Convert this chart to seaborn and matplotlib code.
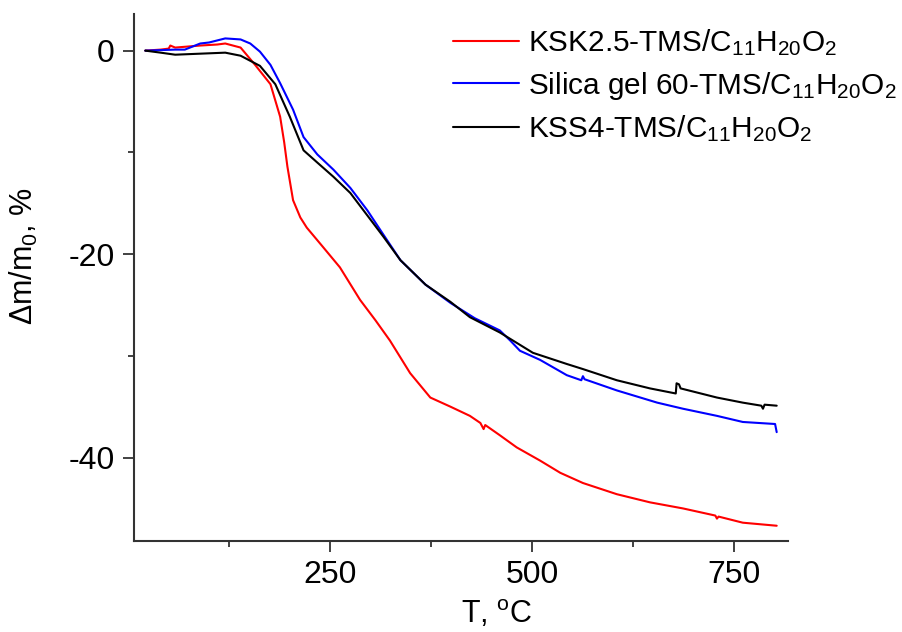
import numpy as np
import pandas as pd
import matplotlib
matplotlib.use("Agg")
import matplotlib.pyplot as plt
import seaborn as sns
from matplotlib.ticker import MultipleLocator

# ---- data ----
labels = [r"KSK2.5-TMS/C$\mathregular{_{11}}$H$\mathregular{_{20}}$O$\mathregular{_{2}}$",
          r"Silica gel 60-TMS/C$\mathregular{_{11}}$H$\mathregular{_{20}}$O$\mathregular{_{2}}$",
          r"KSS4-TMS/C$\mathregular{_{11}}$H$\mathregular{_{20}}$O$\mathregular{_{2}}$"]

t_red = [21, 40, 50, 52, 58, 89, 110, 120, 139, 157, 176, 188, 193, 197, 204, 213, 221, 240, 262,
         287, 306, 324, 349, 374, 399, 423, 436, 440, 442, 460, 481, 510, 535, 563, 605, 646,
         687, 727, 729, 731, 761, 803]
m_red = [0.0, 0.1, 0.2, 0.5, 0.3, 0.5, 0.6, 0.7, 0.3, -1.4, -3.3, -6.5, -9.0, -11.4, -14.7, -16.4,
         -17.4, -19.2, -21.3, -24.5, -26.5, -28.5, -31.7, -34.1, -35.0, -35.9, -36.6, -37.2,
         -36.8, -37.8, -39.0, -40.3, -41.5, -42.5, -43.6, -44.4, -45.0, -45.7, -46.0, -45.8,
         -46.4, -46.7]

t_blue = [21, 58, 70, 89, 100, 120, 139, 151, 163, 176, 188, 204, 217, 234, 254, 275, 296,
          316, 337, 368, 399, 429, 460, 473, 485, 510, 543, 561, 563, 565, 605, 655, 687, 729,
          761, 801, 803]
m_blue = [0.0, 0.1, 0.1, 0.7, 0.8, 1.2, 1.1, 0.7, -0.1, -1.4, -3.2, -5.8, -8.5, -10.2, -11.7,
          -13.5, -15.7, -18.1, -20.6, -23.0, -24.8, -26.3, -27.5, -28.5, -29.5, -30.4, -31.9,
          -32.4, -32.0, -32.3, -33.4, -34.6, -35.2, -35.9, -36.5, -36.7, -37.5]

t_black = [21, 40, 58, 89, 120, 139, 151, 163, 182, 200, 217, 234, 254, 275, 296, 316, 337,
           368, 399, 423, 460, 501, 543, 563, 605, 646, 678, 679, 682, 684, 729, 761, 784,
           786, 788, 803]
m_black = [0.0, -0.2, -0.4, -0.3, -0.2, -0.5, -1.0, -1.5, -3.3, -6.5, -9.8, -11.0, -12.4,
           -14.0, -16.2, -18.3, -20.6, -23.0, -24.7, -26.2, -27.7, -29.7, -30.8, -31.3, -32.4,
           -33.2, -33.7, -32.7, -32.8, -33.2, -34.1, -34.6, -34.9, -35.2, -34.8, -34.9]

x_ticks = [250, 500, 750]
y_ticks = [0, -20, -40]
colors = ["#ff0000", "#0000ff", "#000000"]

df = pd.concat([
    pd.DataFrame({"T": t_red, "m": m_red, "sample": labels[0]}),
    pd.DataFrame({"T": t_blue, "m": m_blue, "sample": labels[1]}),
    pd.DataFrame({"T": t_black, "m": m_black, "sample": labels[2]}),
], ignore_index=True)

sns.set_theme(style="white")
plt.rcParams["font.family"] = ["Liberation Sans", "DejaVu Sans"]
plt.rcParams["mathtext.fontset"] = "custom"
plt.rcParams["mathtext.rm"] = "Liberation Sans"
plt.rcParams["mathtext.it"] = "Liberation Sans:italic"
plt.rcParams["mathtext.bf"] = "Liberation Sans:bold"
plt.rcParams["axes.unicode_minus"] = False
plt.rcParams["text.color"] = "black"
plt.rcParams["axes.labelcolor"] = "black"
plt.rcParams["xtick.color"] = "black"
plt.rcParams["ytick.color"] = "black"

fig = plt.figure(figsize=(9.02, 6.32), dpi=100)
ax = fig.add_axes([134 / 902, 1 - 541 / 632, 654 / 902, 527 / 632])

sns.lineplot(data=df, x="T", y="m", hue="sample", palette=colors, sort=False,
             estimator=None, linewidth=1.5, ax=ax)

ax.set_xlim(7, 817)
ax.set_ylim(-48.2, 3.6)
ax.set_xticks(x_ticks)
ax.set_yticks(y_ticks)
ax.xaxis.set_minor_locator(MultipleLocator(125))
ax.yaxis.set_minor_locator(MultipleLocator(10))
for s in ["top", "right"]:
    ax.spines[s].set_visible(False)
for s in ["left", "bottom"]:
    ax.spines[s].set_color("#333333")
    ax.spines[s].set_linewidth(1.5)
ax.tick_params(axis="both", which="major", direction="out", length=8, width=1.3,
               color="#333333", labelsize=23, pad=6, bottom=True, left=True)
ax.tick_params(axis="both", which="minor", direction="out", length=4.5, width=1.3,
               color="#333333", bottom=True, left=True)
ax.set_xlabel(r"T, $\mathregular{^o}$C", fontsize=22)
ax.set_ylabel(r"$\mathregular{\Delta}$m/m$\mathregular{_0}$, %", fontsize=22)
ax.xaxis.set_label_coords(0.555, -0.108)
ax.yaxis.set_label_coords(-0.143, 0.54)

leg = ax.legend(loc="upper left", bbox_to_anchor=(0.47, 0.998), frameon=False, fontsize=21.4,
                handlelength=2.2, handletextpad=0.33, labelspacing=0.4, borderaxespad=0)
for line in leg.get_lines():
    line.set_linewidth(1.5)

fig.savefig("out.png", dpi=100)
